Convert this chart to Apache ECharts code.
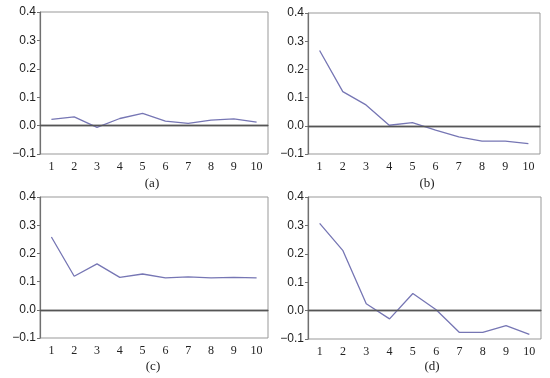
<!DOCTYPE html>
<html><head><meta charset="utf-8">
<script src="https://cdn.jsdelivr.net/npm/echarts@6/dist/echarts.min.js"></script>
<style>html,body{margin:0;padding:0;background:#fff}#c{width:550px;height:378px}</style>
</head><body><div id="c"></div>
<script>
const categories = ['1','2','3','4','5','6','7','8','9','10'];
const seriesA = [0.022, 0.031, -0.006, 0.025, 0.043, 0.016, 0.008, 0.019, 0.024, 0.012];
const seriesB = [0.267, 0.121, 0.074, 0.002, 0.011, -0.015, -0.039, -0.054, -0.054, -0.063];
const seriesC = [0.258, 0.119, 0.163, 0.115, 0.127, 0.113, 0.117, 0.113, 0.115, 0.113];
const seriesD = [0.307, 0.211, 0.024, -0.029, 0.060, 0.003, -0.077, -0.077, -0.053, -0.084];
const captions = ['(a)','(b)','(c)','(d)'];
const yTicks = {min: -0.1, max: 0.4, interval: 0.1};

const grids = [
  {left: 40, top: 12, width: 228, height: 142},
  {left: 308, top: 13, width: 232, height: 141},
  {left: 40, top: 197, width: 228, height: 141},
  {left: 308, top: 197, width: 233, height: 142}
];
const capPos = [[147,172],[422,172],[148,355],[427,355]];
const data = [seriesA, seriesB, seriesC, seriesD];
const font = 'Liberation Serif';
const axisColor = '#707070';

const option = {
  animation: false,
  backgroundColor: '#fff',
  grid: grids.map(g => Object.assign({show: true, borderColor: '#999', borderWidth: 1, backgroundColor: 'transparent'}, g)),
  title: captions.map((t, i) => ({text: t, left: capPos[i][0], top: capPos[i][1], textAlign: 'center',
    textStyle: {fontFamily: font, fontSize: 13, fontWeight: 'normal', color: '#222'}})),
  xAxis: grids.map((g, i) => ({
    type: 'category', gridIndex: i, data: categories, boundaryGap: true,
    axisLine: {lineStyle: {color: axisColor, width: 1.4}},
    axisTick: {inside: true, length: 3, lineStyle: {color: axisColor}},
    axisLabel: {fontFamily: font, fontSize: 12, color: '#222', margin: 7}
  })),
  yAxis: grids.map((g, i) => ({
    type: 'value', gridIndex: i, min: yTicks.min, max: yTicks.max, interval: yTicks.interval,
    splitLine: {show: false},
    axisLine: {show: true, lineStyle: {color: axisColor, width: 1.2}},
    axisTick: {show: true, length: 3, lineStyle: {color: axisColor}},
    axisLabel: {fontFamily: 'Liberation Sans', fontSize: 12, color: '#222', margin: 4,
      formatter: v => (v < 0 ? '\u2212' : '') + Math.abs(v).toFixed(1)}
  })),
  series: data.map((d, i) => ({
    type: 'line', xAxisIndex: i, yAxisIndex: i, data: d, symbol: 'none',
    lineStyle: {color: '#7676b4', width: 1.3},
    markLine: {silent: true, symbol: 'none', label: {show: false},
      lineStyle: {color: '#555', width: 1.3, type: 'solid'}, data: [{yAxis: 0}]}
  }))
};
echarts.init(document.getElementById('c')).setOption(option);
</script></body></html>
